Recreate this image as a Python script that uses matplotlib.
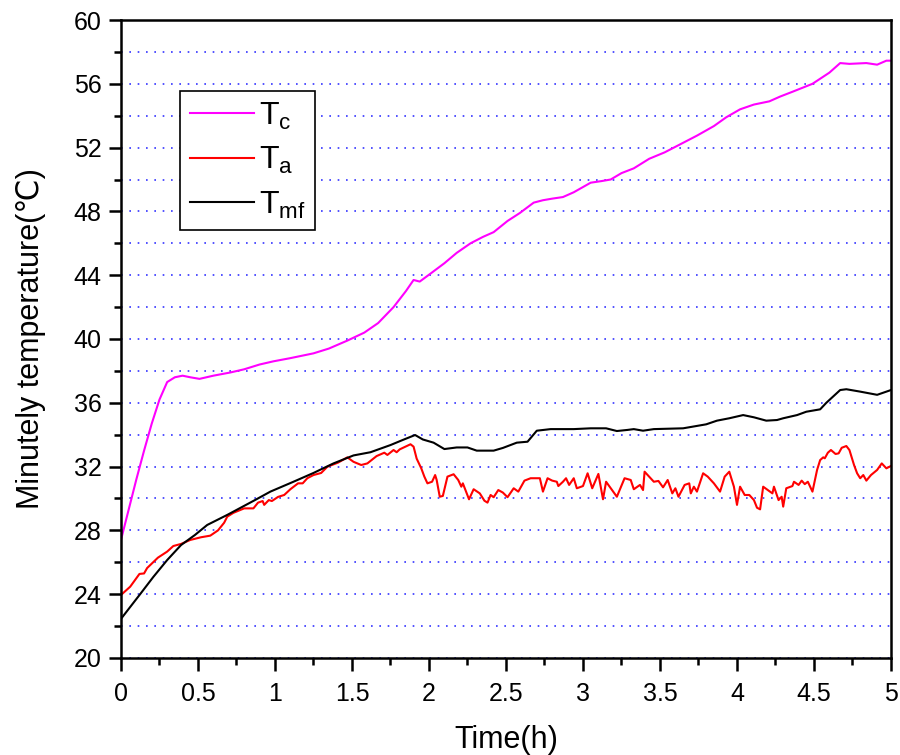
import matplotlib.pyplot as plt
from matplotlib.ticker import MultipleLocator

plt.rcParams['font.family'] = ['Liberation Sans', 'DejaVu Sans']
plt.rcParams['mathtext.fontset'] = 'custom'
plt.rcParams['mathtext.rm'] = 'Liberation Sans'

# core temperature
t_c = [0, 0.05, 0.1, 0.15, 0.2, 0.25, 0.3, 0.35, 0.4, 0.45, 0.51, 0.6, 0.71, 0.8, 0.9,
       0.99, 1.1, 1.25, 1.35, 1.47, 1.58, 1.67, 1.77, 1.85, 1.9, 1.94, 2.01, 2.1, 2.18,
       2.27, 2.35, 2.42, 2.51, 2.59, 2.68, 2.74, 2.8, 2.87, 2.94, 3.05, 3.12, 3.18, 3.25,
       3.33, 3.43, 3.53, 3.63, 3.74, 3.85, 3.93, 4.02, 4.11, 4.21, 4.28, 4.36, 4.49, 4.6,
       4.67, 4.73, 4.84, 4.91, 4.97, 5.0]
tc = [27.4, 29.3, 31.2, 33.0, 34.7, 36.2, 37.3, 37.6, 37.7, 37.6, 37.5, 37.7, 37.9, 38.1, 38.4,
      38.6, 38.8, 39.1, 39.4, 39.9, 40.4, 41.0, 42.0, 43.0, 43.7, 43.6, 44.1, 44.75, 45.4,
      46.0, 46.4, 46.7, 47.4, 47.9, 48.55, 48.7, 48.8, 48.9, 49.2, 49.8, 49.9, 50.0, 50.4,
      50.7, 51.3, 51.7, 52.2, 52.75, 53.35, 53.9, 54.4, 54.7, 54.9, 55.2, 55.5, 56.0, 56.7,
      57.3, 57.25, 57.3, 57.2, 57.45, 57.45]

# ambient temperature
t_a = [0, 0.06, 0.12, 0.15, 0.17, 0.24, 0.3, 0.34, 0.39, 0.45, 0.52, 0.58, 0.63, 0.67, 0.69,
       0.73, 0.8, 0.86, 0.89, 0.92, 0.93, 0.96, 0.98, 1.02, 1.06, 1.1, 1.15, 1.18, 1.21, 1.25,
       1.3, 1.34, 1.41, 1.47, 1.51, 1.56, 1.6, 1.66, 1.71, 1.73, 1.77, 1.79, 1.81, 1.88, 1.9,
       1.92, 1.95, 1.97, 1.99, 2.02, 2.04, 2.05, 2.07, 2.09, 2.12, 2.16, 2.19, 2.21, 2.22,
       2.26, 2.29, 2.33, 2.36, 2.38, 2.4, 2.42, 2.45, 2.48, 2.51, 2.55, 2.58, 2.62, 2.66,
       2.72, 2.74, 2.77, 2.8, 2.83, 2.84, 2.87, 2.89, 2.91, 2.94, 2.96, 3.0, 3.03, 3.06,
       3.1, 3.13, 3.15, 3.22, 3.27, 3.31, 3.33, 3.37, 3.39, 3.4, 3.46, 3.49, 3.52, 3.55,
       3.58, 3.6, 3.62, 3.66, 3.69, 3.7, 3.72, 3.74, 3.78, 3.81, 3.85, 3.89, 3.92, 3.95,
       3.98, 4.0, 4.02, 4.05, 4.08, 4.11, 4.13, 4.15, 4.17, 4.2, 4.23, 4.24, 4.27, 4.29,
       4.3, 4.32, 4.36, 4.37, 4.4, 4.42, 4.44, 4.46, 4.49, 4.52, 4.54, 4.56, 4.57, 4.59,
       4.61, 4.64, 4.66, 4.68, 4.71, 4.73, 4.76, 4.78, 4.8, 4.82, 4.84, 4.87, 4.91, 4.94,
       4.97, 5.0]
ta = [23.95, 24.47, 25.27, 25.3, 25.64, 26.29, 26.67, 27.02, 27.15, 27.4, 27.57, 27.67, 28.0, 28.48, 28.86,
      29.1, 29.38, 29.38, 29.74, 29.84, 29.6, 29.9, 29.84, 30.1, 30.22, 30.58, 30.95, 30.95, 31.27, 31.47,
      31.6, 31.99, 32.25, 32.58, 32.3, 32.1, 32.2, 32.66, 32.87, 32.73, 33.04, 32.9, 33.08, 33.4, 33.25,
      32.5, 31.89, 31.37, 30.95, 31.05, 31.47, 31.16, 30.11, 30.16, 31.37, 31.52, 31.16, 30.74, 30.95,
      29.95, 30.58, 30.32, 29.86, 29.74, 30.22, 30.08, 30.53, 30.37, 30.08, 30.64, 30.43, 31.12, 31.27,
      31.27, 30.43, 31.27, 31.12, 31.05, 30.78, 31.05, 31.27, 30.85, 31.27, 30.64, 30.78, 31.58, 30.64,
      31.54, 29.95, 31.05, 30.11, 31.27, 31.16, 30.58, 30.85, 30.53, 31.68, 31.05, 31.1, 30.7, 31.16,
      30.32, 30.64, 30.11, 30.85, 30.95, 30.32, 30.74, 30.43, 31.58, 31.37, 30.95, 30.43, 31.37, 31.68,
      30.74, 29.6, 30.74, 30.22, 30.22, 29.9, 29.42, 29.32, 30.74, 30.53, 30.32, 30.74, 29.9, 30.11,
      29.49, 30.64, 30.78, 31.05, 30.85, 31.12, 30.9, 31.05, 30.43, 31.79, 32.41, 32.58, 32.52, 32.87,
      33.04, 32.79, 32.83, 33.18, 33.29, 33.04, 32.1, 31.58, 31.27, 31.47, 31.12, 31.47, 31.79, 32.2,
      31.89, 32.04]

# mean fluid temperature
t_mf = [0, 0.02, 0.13, 0.21, 0.3, 0.39, 0.48, 0.56, 0.69, 0.87, 0.97, 1.12, 1.25, 1.38, 1.51,
        1.62, 1.75, 1.83, 1.91, 1.96, 2.03, 2.1, 2.18, 2.25, 2.31, 2.42, 2.48, 2.57, 2.64, 2.7,
        2.79, 2.94, 3.05, 3.15, 3.22, 3.29, 3.33, 3.39, 3.46, 3.65, 3.71, 3.8, 3.87, 3.95, 4.04,
        4.11, 4.19, 4.26, 4.3, 4.39, 4.45, 4.54, 4.58, 4.67, 4.71, 4.8, 4.91, 5.0]
tmf = [22.45, 22.7, 24.07, 25.08, 26.14, 27.08, 27.71, 28.34, 28.97, 29.9, 30.43, 31.05, 31.6, 32.2, 32.7,
       32.9, 33.35, 33.67, 33.98, 33.7, 33.5, 33.1, 33.2, 33.2, 33.0, 33.0, 33.17, 33.5, 33.56, 34.25,
       34.35, 34.35, 34.4, 34.4, 34.23, 34.3, 34.35, 34.25, 34.35, 34.4, 34.5, 34.65, 34.88, 35.03, 35.23,
       35.09, 34.88, 34.92, 35.03, 35.23, 35.44, 35.59, 36.0, 36.8, 36.85, 36.7, 36.5, 36.8]

x_ticks = [0, 0.5, 1, 1.5, 2, 2.5, 3, 3.5, 4, 4.5, 5]
x_labels = ['0', '0.5', '1', '1.5', '2', '2.5', '3', '3.5', '4', '4.5', '5']

fig = plt.figure(figsize=(9, 7.55), dpi=100)
ax = fig.add_axes([0.1344, 0.1285, 0.8556, 0.845])

ax.plot(t_c, tc, color='#ff00ff', lw=1.5, label=r'$\mathregular{T_c}$')
ax.plot(t_a, ta, color='#ff0000', lw=1.5, label=r'$\mathregular{T_a}$')
ax.plot(t_mf, tmf, color='black', lw=1.5, label=r'$\mathregular{T_{mf}}$')

ax.set_xlim(0, 5)
ax.set_ylim(20, 60)
ax.set_xticks(x_ticks)
ax.set_xticklabels(x_labels)
ax.xaxis.set_minor_locator(MultipleLocator(0.25))
ax.yaxis.set_major_locator(MultipleLocator(4))
ax.yaxis.set_minor_locator(MultipleLocator(2))

ax.yaxis.grid(True, which='both', color='#0000ff', linestyle=(0, (1, 4)), lw=1.2, alpha=0.8)
ax.set_axisbelow(True)

for s in ax.spines.values():
    s.set_linewidth(1.8)

ax.tick_params(which='major', direction='out', length=9, width=1.8, labelsize=18, pad=5)
ax.tick_params(which='minor', direction='out', length=5, width=1.8)
ax.tick_params(axis='x', which='major', pad=8)

ax.set_xlabel('Time(h)', fontsize=22, labelpad=14)
ax.set_ylabel('Minutely temperature(℃)', fontsize=22, labelpad=20)

leg = ax.legend(loc='upper left', bbox_to_anchor=(0.077, 0.889), fontsize=23,
                fancybox=False, framealpha=1, edgecolor='black', handlelength=2.0,
                labelspacing=0.42, borderpad=0.3, handletextpad=0.15, borderaxespad=0)
leg.get_frame().set_linewidth(1.2)

plt.savefig('out.png', dpi=100)
